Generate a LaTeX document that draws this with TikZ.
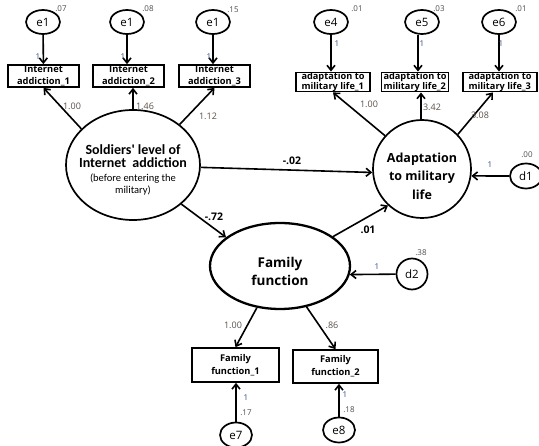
\documentclass[tikz,border=0pt]{standalone}
\usepackage{fontspec}
\setmainfont{Open Sans}
\newfontfamily\calfont{Carlito}
\usetikzlibrary{shapes.geometric,arrows.meta}
\definecolor{loadc}{HTML}{5A5048}
\definecolor{onec}{HTML}{2A4A80}
\begin{document}
\begin{tikzpicture}[x=1pt,y=-1pt,
  every node/.style={inner sep=0pt},
  lw/.style={line width=1.7pt},
  arr/.style={line width=1.6pt,-{Straight Barb[length=5pt,width=8pt,line width=1.6pt]}},
  err/.style={ellipse,draw,line width=1.7pt,minimum width=34pt,minimum height=24pt,font=\fontsize{11.5}{11}\selectfont},
  obs/.style={rectangle,draw,line width=1.7pt,font=\bfseries\fontsize{9.3}{11.5}\selectfont,align=center},
  obsl/.style={rectangle,draw,line width=1.7pt,font=\bfseries\fontsize{9.2}{10}\selectfont,align=left,inner xsep=2pt},
  num/.style={font=\fontsize{8}{8}\selectfont,text=black!70},
  one/.style={font=\fontsize{8}{8}\selectfont,text=onec},
  load/.style={font=\fontsize{9}{9}\selectfont,text=loadc},
  coef/.style={font=\bfseries\fontsize{10.5}{10}\selectfont}
]
\useasboundingbox (0,0) rectangle (539,446);

% --- Internet addiction indicators
\node[err] (e1a) at (43,22) {e1};
\node[err] (e1b) at (127,22) {e1};
\node[err] (e1c) at (213,22) {e1};
\node[num] at (61,9) {.07};
\node[num] at (148,9) {.08};
\node[num] at (233,10) {.15};
\node[obs,minimum width=71pt,minimum height=22pt] (b1) at (43.5,76) {Internet\\addiction\_1};
\node[obs,minimum width=71pt,minimum height=22pt] (b2) at (128.5,76) {Internet\\addiction\_2};
\node[obs,minimum width=71pt,minimum height=22pt] (b3) at (214.5,76) {Internet\\addiction\_3};
\draw[arr] (e1a) -- (b1);
\draw[arr] (e1b) -- (e1b.south |- b2.north);
\draw[arr] (e1c) -- (e1c.south |- b3.north);
\node[one] at (38,57) {1};
\node[one] at (123,57) {1};
\node[one] at (209,57) {1};

% --- Adaptation indicators
\node[err] (e4) at (331,22) {e4};
\node[err] (e5) at (422,22) {e5};
\node[err] (e6) at (499,22) {e6};
\node[num] at (357,9) {.01};
\node[num] at (439,9) {.03};
\node[num] at (521,9) {.01};
\node[obsl,minimum width=74pt,minimum height=18pt] (b4) at (333,82) {adaptation to\\military life\_1};
\node[obsl,minimum width=67pt,minimum height=18pt] (b5) at (415,82) {adaptation to\\military life\_2};
\node[obsl,minimum width=74pt,minimum height=18pt] (b6) at (500,82) {adaptation to\\military life\_3};
\draw[arr] (e4) -- (e4.south |- b4.north);
\draw[arr] (e5.south) ++(-4,0) coordinate (e5s) -- (e5s |- b5.north);
\draw[arr] (e6) -- (e6.south |- b6.north);
\node[one] at (337,44) {1};
\node[one] at (422,44) {1};
\node[one] at (501,44) {1};

% --- Latent variables
\node[ellipse,draw,lw,minimum width=134pt,minimum height=110pt] (sol) at (133,165) {};
\node[align=center] (solt) at (133,170) {{\calfont\bfseries\fontsize{14}{15}\selectfont Soldiers' level of}\\[1pt]
  {\calfont\bfseries\fontsize{14}{15}\selectfont Internet\ \ addiction}\\[2pt]
  {\calfont\fontsize{10.5}{11}\selectfont (before entering the}\\[0pt]
  {\calfont\fontsize{10.5}{11}\selectfont military)}};

\node[circle,draw,lw,minimum size=98pt] (ad) at (422,169) {};
\node[align=center,font=\bfseries\fontsize{12.5}{18.5}\selectfont] (adt) at (422,176) {Adaptation\\to military\\life};

\node[ellipse,draw,line width=2.3pt,minimum width=140pt,minimum height=86pt] (fam) at (280,266) {};
\node[align=center,font=\bfseries\fontsize{13.5}{18}\selectfont] (famt) at (280,271) {Family\\function};

% loadings Internet addiction
\draw[arr] (sol.145) -- (b1.south);
\draw[arr] (sol.north) -- (sol.north |- b2.south);
\draw[arr] (sol.41) -- (b3.south);
\node[load] at (72,106) {1.00};
\node[load] at (145,106) {1.46};
\node[load] at (208,116) {1.12};

% loadings Adaptation
\draw[arr] (ad.138) -- (b4.south);
\draw[arr] (ad.north) ++(-1,0) coordinate (adn) -- (adn |- b5.south);
\draw[arr] (ad.44) -- ([xshift=-7pt]b6.south);
\node[load] at (369,104) {1.00};
\node[load] at (432,107) {3.42};
\node[load] at (480,115) {3.08};

% structural paths
\draw[arr] (sol.-2) -- (ad.184);
\node[coef] at (292,161) {-.02};
\draw[arr] (sol.-39) -- (fam.152);
\node[coef] at (214,217) {-.72};
\draw[arr] (fam.29) -- (ad.227);
\node[coef] at (368,230) {.01};

% disturbances
\node[ellipse,draw,lw,minimum width=32pt,minimum height=25pt,font=\fontsize{11.5}{11}\selectfont] (d1) at (526,176) {d1};
\node[num] at (527,155) {.00};
\draw[arr] (d1) -- (ad.-8);
\node[one] at (490,165) {1};

\node[circle,draw,lw,minimum size=31pt,font=\fontsize{11.5}{11}\selectfont] (d2) at (412,274) {d2};
\node[num] at (421,253) {.38};
\draw[arr] (d2) -- (fam.-7);
\node[one] at (377,267) {1};

% family indicators
\node[obs,font=\bfseries\fontsize{9.3}{13}\selectfont,minimum width=87pt,minimum height=34pt] (b7) at (235.5,365) {Family\\function\_1};
\node[obs,font=\bfseries\fontsize{9.3}{13}\selectfont,minimum width=85pt,minimum height=33pt] (b8) at (335.5,366.5) {Family\\function\_2};
\draw[arr] (fam.241) -- (b7.north);
\draw[arr] (fam.-57) -- (b8.north);
\node[load] at (233,325) {1.00};
\node[load] at (332,325) {.86};

\node[err,minimum width=32pt,minimum height=25pt] (e7) at (236,435) {e7};
\node[err,minimum width=32pt,minimum height=25pt] (e8) at (339,430) {e8};
\draw[arr] (e7) -- (e7.north |- b7.south);
\draw[arr] (e8) -- (e8.north |- b8.south);
\node[one] at (246,398) {1};
\node[num] at (246,413) {.17};
\node[one] at (345,395) {1};
\node[num] at (349,410) {.18};
\end{tikzpicture}
\end{document}
